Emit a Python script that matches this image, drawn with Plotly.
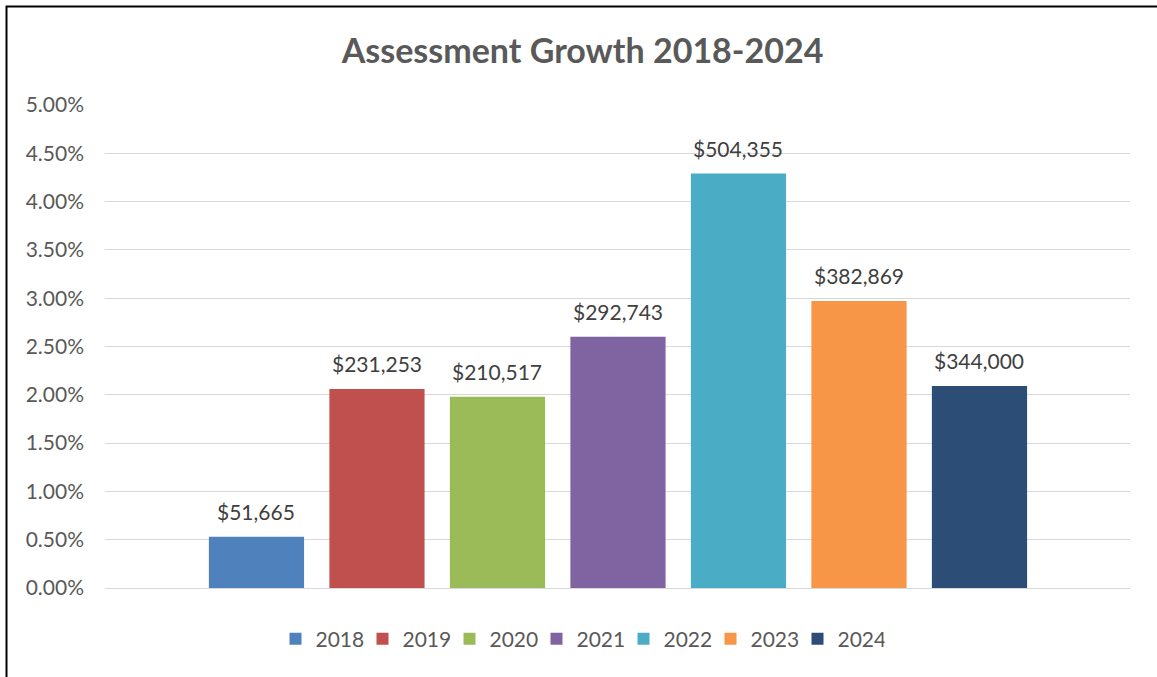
import plotly.graph_objects as go

# Assessment growth by year: percentage change and dollar increase
years = ["2018", "2019", "2020", "2021", "2022", "2023", "2024"]
growth_pct = [0.53, 2.06, 1.98, 2.60, 4.29, 2.97, 2.09]
dollar_increase = [51665, 231253, 210517, 292743, 504355, 382869, 344000]
bar_colors = ["#4F81BD", "#C0504D", "#9BBB59", "#8064A2", "#4BACC6", "#F79646", "#2C4D75"]
y_ticks = [0.5 * i for i in range(11)]

W, H = 1157, 677
ML, MR, MT, MB = 105, 27, 105, 89
FONT = "Lato, 'Open Sans', sans-serif"

fig = go.Figure()
for i, (yr, val, col) in enumerate(zip(years, growth_pct, bar_colors)):
    fig.add_trace(go.Bar(
        x=[i], y=[val / 100], name=yr, width=0.79,
        marker=dict(color=col, line=dict(width=0)),
        hoverinfo="skip",
    ))
    fig.add_annotation(
        x=i, y=val / 100, xref="x", yref="y",
        text=f"${dollar_increase[i]:,}", showarrow=False,
        yanchor="bottom", yshift=11,
        font=dict(family=FONT, size=21, color="#404040"),
    )

# chart frame (top and left edges visible)
pw, ph = W - ML - MR, H - MT - MB
fx0, fy1 = (6.5 - ML) / pw, 1 + (MT - 6.5) / ph
fig.add_shape(type="rect", xref="paper", yref="paper",
              x0=fx0, x1=1 + (MR + 20) / pw, y0=-(MB + 20) / ph, y1=fy1,
              line=dict(color="#000000", width=2), fillcolor="rgba(0,0,0,0)", layer="above")

fig.update_layout(
    width=W, height=H,
    margin=dict(l=ML, r=MR, t=MT, b=MB),
    paper_bgcolor="white", plot_bgcolor="white",
    barmode="overlay",
    title=dict(text="<b>Assessment Growth 2018-2024</b>", x=0.5035, xref="container",
               y=1 - 51 / H, yref="container", xanchor="center", yanchor="middle",
               font=dict(family=FONT, size=34, color="#595959")),
    xaxis=dict(range=[-1.257, 7.249], showticklabels=False, showgrid=False,
               zeroline=False, showline=False, fixedrange=True),
    yaxis=dict(range=[0, 0.05], tickvals=[v / 100 for v in y_ticks], tickformat=".2%",
               showgrid=True, gridcolor="#D9D9D9", gridwidth=1.3,
               zeroline=True, zerolinecolor="#D9D9D9", zerolinewidth=1.3,
               showline=False, ticks="", ticklabelstandoff=20,
               tickfont=dict(family=FONT, size=21, color="#595959")),
    legend=dict(orientation="h", x=580 / W, xref="container", xanchor="center",
                y=1 - 639 / H, yref="container", yanchor="middle",
                font=dict(family=FONT, size=21, color="#595959"),
                entrywidth=42, entrywidthmode="pixels",
                itemclick=False, itemdoubleclick=False, tracegroupgap=0),
    showlegend=True,
)

fig.write_html("out.html")
